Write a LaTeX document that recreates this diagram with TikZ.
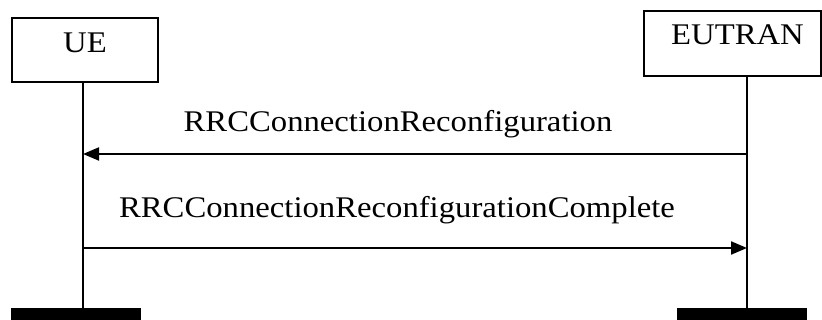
\documentclass[tikz,border=0pt]{standalone}
\usepackage{fontspec}
\setmainfont{Liberation Serif}[FakeStretch=1.09]
\usetikzlibrary{arrows.meta}
\begin{document}
\begin{tikzpicture}[x=1pt,y=-1pt,
  entity/.style={draw=black,line width=2pt,inner sep=0pt},
  lbl/.style={anchor=base,inner sep=0pt,font=\fontsize{30}{34}\selectfont},
  bar/.style={fill=black,draw=none,inner sep=0pt},
  life/.style={line width=2pt},
  msg/.style={line width=2pt,-{Triangle[length=16pt,width=13pt]}}]
\useasboundingbox (0,0) rectangle (822,320);
% entity boxes
\node[entity,minimum width=146pt,minimum height=64pt] (uebox) at (85,50) {};
\node[entity,minimum width=177pt,minimum height=65pt] (enbbox) at (732,43.5) {};
\node[lbl] (uetxt) at (85,53) {UE};
\node[lbl] (enbtxt) at (737.5,45) {EUTRAN};
% bars
\node[bar,minimum width=130pt,minimum height=12pt] (uebar) at (76,314) {};
\node[bar,minimum width=130pt,minimum height=12pt] (enbbar) at (742,314) {};
% lifeline coordinates
\coordinate (uetop) at (83,82);
\coordinate (uebot) at (83,308);
\coordinate (enbtop) at (747,76);
\coordinate (enbbot) at (747,308);
\coordinate (m1s) at (747,154);
\coordinate (m1e) at (83,154);
\coordinate (m2s) at (83,248);
\coordinate (m2e) at (747,248);
\draw[life] (uetop) -- (uebot);
\draw[life] (enbtop) -- (enbbot);
% messages
\draw[msg] (m1s) -- (m1e);
\draw[msg] (m2s) -- (m2e);
\node[lbl] (m1lbl) at (398,132) {RRCConnectionReconfiguration};
\node[lbl] (m2lbl) at (397,218) {RRCConnectionReconfigurationComplete};
\end{tikzpicture}
\end{document}
